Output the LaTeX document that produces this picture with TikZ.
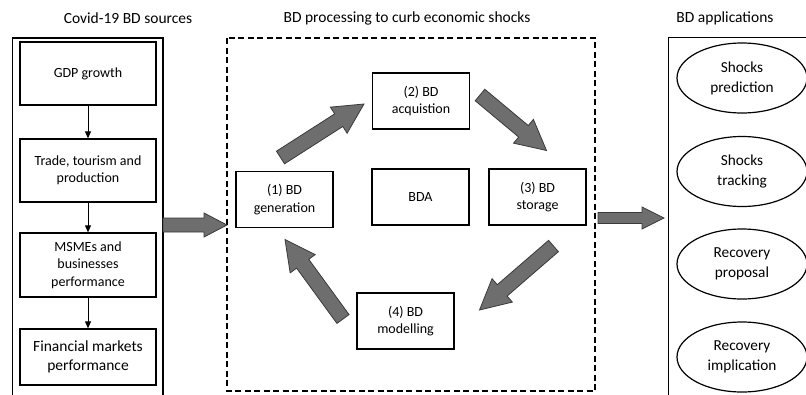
\documentclass[tikz,border=0pt]{standalone}
\usepackage{fontspec}
\setmainfont{Carlito}
\usetikzlibrary{shapes.geometric,arrows.meta,calc}

% block arrow: tail, tip, shaft half width, head half width, head length
\newcommand{\fatarrow}[5]{%
  \coordinate (fa-base) at ($#2!#5!#1$);
  \draw[fatarr] ($#1!#3!90:#2$) -- ($(fa-base)!#3!90:#2$) -- ($(fa-base)!#4!90:#2$) -- #2
    -- ($(fa-base)!#4!-90:#2$) -- ($(fa-base)!#3!-90:#2$) -- ($#1!#3!-90:#2$) -- cycle;
}

\begin{document}
\begin{tikzpicture}[x=1pt,y=-1pt,
  every node/.style={font=\fontsize{14}{17.5}\selectfont, align=center, inner sep=0pt},
  titletext/.style={font=\fontsize{15.5}{19}\selectfont},
  srcbox/.style={draw, line width=1.3pt, minimum width=136pt, minimum height=63pt},
  procbox/.style={draw, line width=1.3pt, minimum width=97pt, minimum height=56pt},
  appoval/.style={draw, ellipse, line width=1.2pt, minimum width=130pt, minimum height=70pt, font=\fontsize{15.3}{20}\selectfont},
  thinarr/.style={-{Triangle[length=7pt,width=6pt]}, line width=0.9pt},
  fatarr/.style={draw={rgb, 255:red, 58; green, 58; blue, 58}, fill={rgb, 255:red, 110; green, 110; blue, 110}, line width=0.8pt, line join=miter}]
\clip (0,0) rectangle (806,394);

% Text Node
\node[titletext] (srctitle) at (128,18) {Covid-19 BD sources};
\node[titletext] (proctitle) at (407,18) {BD processing to curb economic shocks};
\node[titletext] (apptitle) at (725,18) {BD applications};

%Shape: outer frames
\draw[line width=1.3pt] (12.5,410) -- (12.5,38) -- (163,38) -- (163,410);
\draw[line width=1.2pt, dash pattern=on 6pt off 3.5pt] (227,38) rectangle (595,391);
\draw[line width=1.3pt] (668.5,410) -- (668.5,37.5) -- (820,37.5);

% sources column
\node[srcbox] (gdp) at (88,73.5) {GDP growth};
\node[srcbox] (trade) at (88,170.5) {Trade, tourism and\\production};
\node[srcbox, minimum height=64pt] (msme) at (88,265) {MSMEs and\\businesses\\performance};
\node[srcbox, minimum height=56pt, font=\fontsize{15.5}{19.5}\selectfont] (fin) at (88,357) {Financial markets\\performance};

\draw[thinarr] (gdp) -- (trade);
\draw[thinarr] (trade) -- (msme);
\draw[thinarr] (msme) -- (fin);

% processing cycle
\node[procbox] (acq) at (421,101) {(2) BD\\acquistion};
\node[procbox] (gen) at (284.5,199.5) {(1) BD\\generation};
\node[procbox] (bda) at (420.5,197) {BDA};
\node[procbox] (sto) at (537.5,197) {(3) BD\\storage};
\node[procbox] (mod) at (405.5,321) {(4) BD\\modelling};

% applications
\node[appoval] (pred) at (742,78) {Shocks\\prediction};
\node[appoval] (track) at (742,171.5) {Shocks\\tracking};
\node[appoval] (prop) at (742,264) {Recovery\\proposal};
\node[appoval] (impl) at (742,357) {Recovery\\implication};

% block arrows
\coordinate (genacq-s) at (280.5,157.5);
\coordinate (genacq-e) at (364,104);
\coordinate (acqsto-s) at (480,95);
\coordinate (acqsto-e) at (546.5,150.5);
\coordinate (stomod-s) at (553.5,246);
\coordinate (stomod-e) at (479.5,310);
\coordinate (modgen-s) at (343,319);
\coordinate (modgen-e) at (285,239.5);
\coordinate (srcproc-s) at (163,225);
\coordinate (srcproc-e) at (227,225);
\coordinate (procapp-s) at (598,218);
\coordinate (procapp-e) at (664,218);

\fatarrow{(genacq-s)}{(genacq-e)}{7.5pt}{15.5pt}{30pt}
\fatarrow{(acqsto-s)}{(acqsto-e)}{7.5pt}{15.5pt}{30pt}
\fatarrow{(stomod-s)}{(stomod-e)}{7.5pt}{15.5pt}{30pt}
\fatarrow{(modgen-s)}{(modgen-e)}{7.5pt}{15.5pt}{30pt}
\fatarrow{(srcproc-s)}{(srcproc-e)}{7pt}{12pt}{23pt}
\fatarrow{(procapp-s)}{(procapp-e)}{5.5pt}{11pt}{22pt}
\end{tikzpicture}
\end{document}
